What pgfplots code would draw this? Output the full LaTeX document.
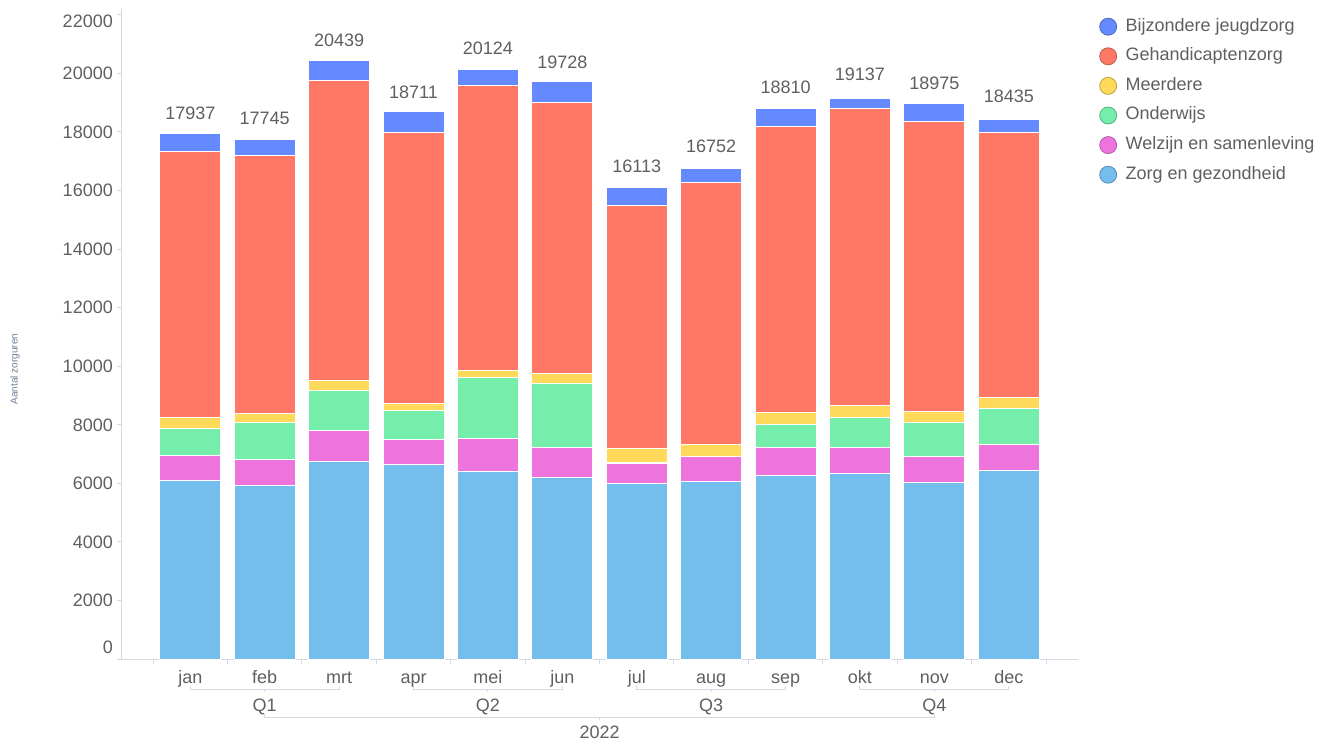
\documentclass[border=0pt]{standalone}
\usepackage{pgfplots}
\pgfplotsset{compat=1.18}
\usepackage{fontspec}
\setmainfont{Liberation Sans}
\definecolor{cLB}{RGB}{115,190,237}
\definecolor{cPK}{RGB}{237,116,221}
\definecolor{cGR}{RGB}{116,238,170}
\definecolor{cYE}{RGB}{255,218,90}
\definecolor{cRD}{RGB}{255,120,102}
\definecolor{cBL}{RGB}{101,137,255}
\definecolor{txt}{RGB}{95,95,95}
\definecolor{axl}{RGB}{216,216,228}
\definecolor{ylab}{RGB}{110,125,150}
\newcommand\f{\fontsize{18}{21}\selectfont}
\pgfplotsset{myleg/.style={legend image code/.code={\draw[fill=#1, draw=#1!75!black, line width=0.8pt] (0pt,0pt) circle (8.5pt); \path (15pt,0pt);}}}
\begin{document}
\begin{tikzpicture}
\useasboundingbox (0,0) rectangle (1330pt,742pt);
\begin{axis}[
  at={(122pt,83pt)}, anchor=south west,
  scale only axis, width=956pt, height=651pt,
  xmin=-0.918, xmax=11.93, ymin=0, ymax=22230,
  ybar stacked, bar width=61pt,
  clip=false,
  axis lines*=left,
  axis line style={draw=axl, line width=1pt},
  xtick={0,...,11},
  xticklabels={jan,feb,mrt,apr,mei,jun,jul,aug,sep,okt,nov,dec},
  minor xtick={-0.5,0.5,...,11.5},
  ytick={0,2000,...,22000},
  yticklabels={\raisebox{12pt}{0},2000,4000,6000,8000,10000,12000,14000,16000,18000,20000,\raisebox{-6pt}{22000}},
  minor ytick={0,2000,...,22000},
  major tick length=0pt, minor tick length=5pt, tick align=outside,
  tick style={draw=axl, line width=1pt},
  xticklabel style={anchor=base, inner sep=0pt, yshift=-24pt, font=\f, text=txt},
  yticklabel style={anchor=base east, inner sep=0pt, xshift=-9pt, yshift=-6.4pt, font=\f, text=txt},
  ylabel={Aantal zorguren},
  ylabel style={at={(axis description cs:-0.112,0.4455)}, anchor=center, font=\fontsize{10}{12}\selectfont, text=ylab},
  reverse legend,
  legend cell align=left,
  legend style={at={(axis description cs:1.0189,0.9908)}, anchor=north west, draw=none, fill=none,
    font=\f, text=txt, row sep=8.6pt, nodes={inner sep=2pt, text height=13pt, text depth=4pt}},
]
\addplot[fill=cLB, draw=white, line width=1pt, myleg=cLB] coordinates {(0,6107) (1,5925) (2,6745) (3,6632) (4,6404) (5,6199) (6,5984) (7,6052) (8,6257) (9,6346) (10,6038) (11,6438)};
\addplot[fill=cPK, draw=white, line width=1pt, myleg=cPK] coordinates {(0,854) (1,878) (2,1069) (3,875) (4,1116) (5,1014) (6,703) (7,854) (8,977) (9,888) (10,888) (11,888)};
\addplot[fill=cGR, draw=white, line width=1pt, myleg=cGR] coordinates {(0,922) (1,1264) (2,1346) (3,980) (4,2084) (5,2186) (6,20) (7,20) (8,764) (9,1024) (10,1161) (11,1240)};
\addplot[fill=cYE, draw=white, line width=1pt, myleg=cYE] coordinates {(0,355) (1,307) (2,362) (3,250) (4,249) (5,341) (6,472) (7,400) (8,431) (9,390) (10,366) (11,375)};
\addplot[fill=cRD, draw=white, line width=1pt, myleg=cRD] coordinates {(0,9095) (1,8822) (2,10246) (3,9234) (4,9723) (5,9256) (6,8309) (7,8948) (8,9768) (9,10164) (10,9904) (11,9030)};
\addplot[fill=cBL, draw=white, line width=1pt, myleg=cBL, point meta=explicit symbolic,
  nodes near coords={\pgfplotspointmeta},
  nodes near coords style={anchor=base, inner sep=0pt, yshift=23.3pt, font=\f, text=txt}]
  coordinates {(0,604) [17937] (1,549) [17745] (2,671) [20439] (3,740) [18711] (4,548) [20124] (5,732) [19728] (6,625) [16113] (7,478) [16752] (8,613) [18810] (9,325) [19137] (10,618) [18975] (11,464) [18435]};
\legend{Zorg en gezondheid,Welzijn en samenleving,Onderwijs,Meerdere,Gehandicaptenzorg,Bijzondere jeugdzorg}
% quarter brackets
\draw[axl, line width=1pt] ([yshift=-27pt]axis cs:0,0) -- ([yshift=-30pt]axis cs:0,0) -- ([yshift=-30pt]axis cs:2,0) -- ([yshift=-27pt]axis cs:2,0);
\draw[axl, line width=1pt] ([yshift=-30pt]axis cs:1,0) -- ([yshift=-33pt]axis cs:1,0);
\node[anchor=base, inner sep=0pt, font=\f, text=txt] at ([yshift=-52pt]axis cs:1,0) {Q1};
\draw[axl, line width=1pt] ([yshift=-27pt]axis cs:3,0) -- ([yshift=-30pt]axis cs:3,0) -- ([yshift=-30pt]axis cs:5,0) -- ([yshift=-27pt]axis cs:5,0);
\draw[axl, line width=1pt] ([yshift=-30pt]axis cs:4,0) -- ([yshift=-33pt]axis cs:4,0);
\node[anchor=base, inner sep=0pt, font=\f, text=txt] at ([yshift=-52pt]axis cs:4,0) {Q2};
\draw[axl, line width=1pt] ([yshift=-27pt]axis cs:6,0) -- ([yshift=-30pt]axis cs:6,0) -- ([yshift=-30pt]axis cs:8,0) -- ([yshift=-27pt]axis cs:8,0);
\draw[axl, line width=1pt] ([yshift=-30pt]axis cs:7,0) -- ([yshift=-33pt]axis cs:7,0);
\node[anchor=base, inner sep=0pt, font=\f, text=txt] at ([yshift=-52pt]axis cs:7,0) {Q3};
\draw[axl, line width=1pt] ([yshift=-27pt]axis cs:9,0) -- ([yshift=-30pt]axis cs:9,0) -- ([yshift=-30pt]axis cs:11,0) -- ([yshift=-27pt]axis cs:11,0);
\draw[axl, line width=1pt] ([yshift=-30pt]axis cs:10,0) -- ([yshift=-33pt]axis cs:10,0);
\node[anchor=base, inner sep=0pt, font=\f, text=txt] at ([yshift=-52pt]axis cs:10,0) {Q4};
\draw[axl, line width=1pt] ([yshift=-55pt]axis cs:1,0) -- ([yshift=-58pt]axis cs:1,0) -- ([yshift=-58pt]axis cs:10,0) -- ([yshift=-55pt]axis cs:10,0);
\draw[axl, line width=1pt] ([yshift=-58pt]axis cs:5.5,0) -- ([yshift=-61pt]axis cs:5.5,0);
\node[anchor=base, inner sep=0pt, font=\f, text=txt] at ([yshift=-79pt]axis cs:5.5,0) {2022};
\end{axis}
\end{tikzpicture}
\end{document}
